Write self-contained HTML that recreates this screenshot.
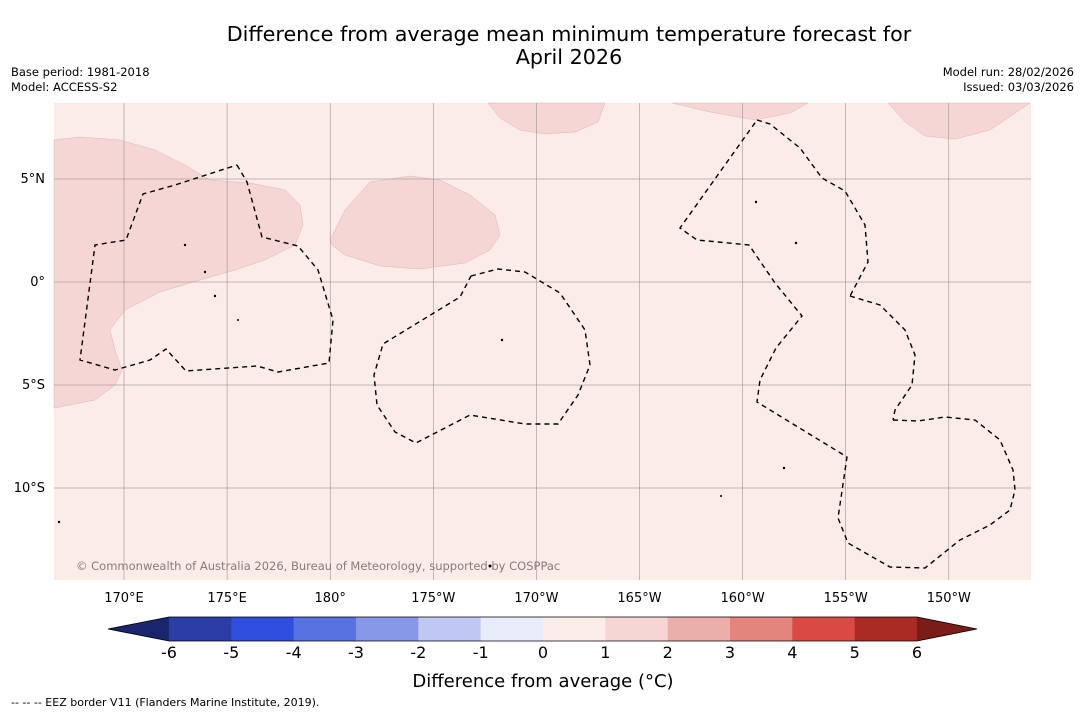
<!DOCTYPE html>
<html><head><meta charset="utf-8">
<style>
body{margin:0;background:#fff;width:1085px;height:713px;overflow:hidden;font-family:"DejaVu Sans",sans-serif;}
</style></head>
<body>
<svg id="svg" width="1085" height="713" xmlns="http://www.w3.org/2000/svg" font-family="DejaVu Sans, sans-serif">
<text x="569" y="41" font-size="20.7" text-anchor="middle">Difference from average mean minimum temperature forecast for</text>
<text x="569" y="64" font-size="20.7" text-anchor="middle">April 2026</text>
<text x="11" y="76" font-size="11.5">Base period: 1981-2018</text>
<text x="11" y="91" font-size="11.5">Model: ACCESS-S2</text>
<text x="1074" y="76" font-size="11.5" text-anchor="end">Model run: 28/02/2026</text>
<text x="1074" y="91" font-size="11.5" text-anchor="end">Issued: 03/03/2026</text>
<g>
<rect x="54" y="103" width="977" height="477" fill="#fbebe9"/>
<g fill="#f5d6d4" stroke="#d8b8b6" stroke-width="0.5">
<polygon points="54,140 80,137 120,140 155,150 185,165 210,180 250,183 285,190 300,205 303,225 295,245 265,260 235,270 200,280 160,292 125,310 110,330 115,350 122,370 115,385 95,400 54,408"/>
<polygon points="330,240 345,210 370,182 410,176 440,180 470,195 495,215 500,235 490,250 465,263 420,269 380,266 345,255 332,245"/>
<polygon points="488,103 500,118 520,130 545,134 575,132 598,122 605,103"/>
<polygon points="672,103 710,112 755,120 790,113 808,103"/>
<polygon points="888,103 905,122 925,136 955,139 990,130 1030,103"/>
</g>
<g id="grid" stroke="#888" stroke-width="0.5"></g>
<g fill="none" stroke="#000" stroke-width="1.4" stroke-dasharray="5,4">
<polyline points="237,165 247,182 262,237 298,246 318,270 327,300 333,320 329,363 278,372 257,366 186,371 166,349 150,360 115,370 80,360 95,245 126,240 143,194 175,185 237,165"/>
<polyline points="471,276 498,269 525,272 560,293 585,330 590,365 578,395 558,424 525,424 470,415 416,443 395,432 377,405 374,375 383,344 460,297 471,276"/>
<polyline points="757,120 770,124 800,148 822,178 845,191 865,225 868,262 850,296"/>
<polyline points="850,296 880,305 905,330 915,355 912,385 895,410 893,420"/>
<polyline points="893,420 918,421 945,417 975,420 1000,440 1013,470 1015,490 1010,510 990,525 960,540 925,568 890,567 848,543 838,518 847,457 757,402 760,380 776,348 802,316 775,283 749,245 697,240 680,228 757,120"/>
</g>
<g fill="#000">
<circle cx="185" cy="245" r="1.2"/><circle cx="205" cy="272" r="1.2"/><circle cx="215" cy="296" r="1.2"/><circle cx="238" cy="320" r="1"/><circle cx="502" cy="340" r="1.2"/><circle cx="756" cy="202" r="1.2"/><circle cx="796" cy="243" r="1.2"/><circle cx="784" cy="468" r="1.2"/><circle cx="721" cy="496" r="1"/><circle cx="490" cy="566" r="1.5"/><circle cx="59" cy="522" r="1.2"/>
</g>
<text x="76" y="570" font-size="11.5" fill="#8a7a7a">© Commonwealth of Australia 2026, Bureau of Meteorology, supported by COSPPac</text>
</g>
<g id="axes" font-size="13"></g>
<g id="cbar"></g>
<text x="543" y="687" font-size="18" text-anchor="middle">Difference from average (°C)</text>
<text x="11" y="706" font-size="11">--  --  -- EEZ border V11 (Flanders Marine Institute, 2019).</text>
</svg>
<script>
const lonLabels=["170°E","175°E","180°","175°W","170°W","165°W","160°W","155°W","150°W"];
const latLabels=["5°N","0°","5°S","10°S"];
const cbarTicks=[-6,-5,-4,-3,-2,-1,0,1,2,3,4,5,6];
const cbarColors=["#2b3ea8","#2f4fdf","#5773e2","#8898e8","#c0c8f2","#e9ecfa","#fcecea","#f5d6d4","#ecaea8","#e4847c","#d94a42","#aa2a24"];
const ns="http://www.w3.org/2000/svg";
function mk(t,a,p){const e=document.createElementNS(ns,t);for(const k in a)e.setAttribute(k,a[k]);p.appendChild(e);return e;}
const lonX=i=>124+i*103.1, latY=i=>179+i*103;
const grid=document.getElementById('grid'),axes=document.getElementById('axes');
lonLabels.forEach((l,i)=>{
 const ln=mk('line',{x1:lonX(i),x2:lonX(i),y1:103,y2:580},grid);
 
 
 const t=mk('text',{x:lonX(i),y:602,'text-anchor':'middle'},axes);t.textContent=l;
 
 
});
latLabels.forEach((l,i)=>{
 const ln=mk('line',{x1:54,x2:1031,y1:latY(i),y2:latY(i)},grid);
 
 
 const t=mk('text',{x:45,y:latY(i)+4,'text-anchor':'end'},axes);t.textContent=l;
 
 
});
const cb=document.getElementById('cbar');
const x0=169,x1=917,y0=617,h=24;
const cx=v=>x0+(v-cbarTicks[0])/(cbarTicks[cbarTicks.length-1]-cbarTicks[0])*(x1-x0);
cbarColors.forEach((c,i)=>{
 const r=mk('rect',{x:cx(cbarTicks[i]),y:y0,width:cx(cbarTicks[i+1])-cx(cbarTicks[i])+0.5,height:h,fill:c},cb);
 
 
});
const lt=mk('polygon',{points:`${x0},${y0} 108,${y0+h/2} ${x0},${y0+h}`,fill:"#1a2570"},cb);


const rt=mk('polygon',{points:`${x1},${y0} 977,${y0+h/2} ${x1},${y0+h}`,fill:"#7a1c18"},cb);


const ol=mk('polygon',{points:`108,${y0+h/2} ${x0},${y0} ${x1},${y0} 977,${y0+h/2} ${x1},${y0+h} ${x0},${y0+h}`,fill:"none",stroke:"#000","stroke-width":0.8},cb);


cbarTicks.forEach(v=>{
 const t=mk('text',{x:cx(v),y:658,'font-size':16,'text-anchor':'middle'},cb);t.textContent=v;
 
 
});
</script>
</body></html>
